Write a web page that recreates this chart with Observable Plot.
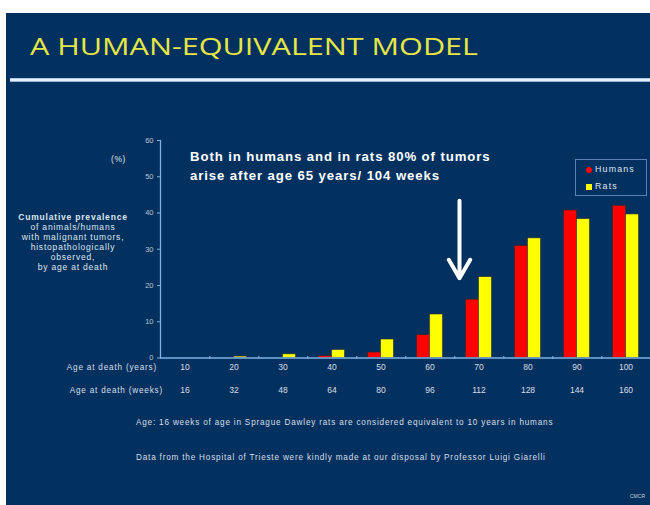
<!DOCTYPE html>
<html>
<head>
<meta charset="utf-8">
<script src="https://cdn.jsdelivr.net/npm/d3@7"></script>
<script src="https://cdn.jsdelivr.net/npm/@observablehq/plot@0.6"></script>
<style>
  html, body { margin: 0; padding: 0; background: #ffffff; width: 650px; height: 505px; overflow: hidden; }
  body { position: relative; font-family: "Liberation Sans", Arial, sans-serif; }
  .abs { position: absolute; white-space: nowrap; }
  #slide { position: absolute; left: 6px; top: 13px; width: 644px; height: 492px; background: #03315f; }
  #rule { position: absolute; left: 10px; top: 78px; width: 640px; height: 4px;
          background: linear-gradient(#8fb3de, #ffffff 45%, #ffffff 55%, #6f95c8); }
  #ylabel { left: 12px; top: 212px; width: 122px; text-align: center; color: #dfe5ee; font-size: 8.5px; line-height: 10px; letter-spacing: 0.8px; }
  #ylabel b { font-weight: bold; }
  #pct { left: 111px; top: 154px; color: #dfe5ee; font-size: 8.5px; letter-spacing: 0.6px; }
  #note { left: 190px; top: 147px; color: #ffffff; font-size: 13.2px; font-weight: bold; line-height: 19px; letter-spacing: 0.9px; }
  #rowYears { right: 493px; top: 363px; color: #d8dee8; font-size: 8.2px; letter-spacing: 0.8px; }
  #rowWeeks { right: 487px; top: 386px; color: #d8dee8; font-size: 8.2px; letter-spacing: 0.8px; }
  .caption { left: 136px; color: #d8dee8; font-size: 8.2px; letter-spacing: 0.8px; }
  #cmcr { left: 630px; top: 493px; color: #c8d0dc; font-size: 5px; }
  #legend { left: 575px; top: 159px; width: 72px; height: 37px; border: 1.5px solid #5b80b6; box-sizing: border-box; }
  .entry { position: absolute; left: 10px; font-size: 8.8px; color: #dfe5ee; letter-spacing: 1.2px; }
  .swatch { display: inline-block; width: 6px; height: 6px; margin-right: 3px; vertical-align: -0.5px; }
  #chart { position: absolute; left: 0; top: 0; width: 660px; height: 505px; }
</style>
</head>
<body>
<div id="slide"></div>
<svg class="abs" width="650" height="78" style="left:0;top:0">
  <text x="30" y="55" textLength="448" lengthAdjust="spacingAndGlyphs"
        fill="#e6e646" font-family="Open Sans, DejaVu Sans, sans-serif" font-weight="400" font-size="23">A HUMAN-EQUIVALENT MODEL</text>
</svg>
<div id="rule"></div>
<div id="chart"></div>
<div id="pct" class="abs">(%)</div>
<div id="ylabel" class="abs"><b>Cumulative prevalence</b><br>of animals/humans<br>with malignant tumors,<br>histopathologically<br>observed,<br>by age at death</div>
<div id="note" class="abs">Both in humans and in rats 80% of tumors<br>arise after age 65 years/ 104 weeks</div>
<div id="rowYears" class="abs">Age at death (years)</div>
<div id="rowWeeks" class="abs">Age at death (weeks)</div>
<div class="abs caption" style="top:418px">Age: 16 weeks of age in Sprague Dawley rats are considered equivalent to 10 years in humans</div>
<div class="abs caption" style="top:453px">Data from the Hospital of Trieste were kindly made at our disposal by Professor Luigi Giarelli</div>
<div id="cmcr" class="abs">CMCR</div>
<div id="legend" class="abs"></div>
<script>
// Age at death, in human years and the equivalent rat age in weeks
const ages = [10, 20, 30, 40, 50, 60, 70, 80, 90, 100];
const weeks = [16, 32, 48, 64, 80, 96, 112, 128, 144, 160];

// Cumulative prevalence of malignant tumours (%)
const humans = [0, 0, 0, 0.5, 1.5, 6.3, 16.1, 30.9, 40.7, 42.0];
const rats = [0, 0.4, 1.0, 2.2, 5.1, 12.0, 22.3, 33.0, 38.3, 39.6];

const seriesNames = ["Humans", "Rats"];
const seriesColors = ["#ff0000", "#ffff00"];
const yTicks = [0, 10, 20, 30, 40, 50, 60];

// Arrow pointing at the 65-year mark
const arrowAt = [{age: 70, from: 43.4, to: 22}];

const data = ages.flatMap((age, i) => [
  {age, series: "Humans", value: humans[i]},
  {age, series: "Rats", value: rats[i]}
]);

const axisColor = "#7fb0e6";

const chart = Plot.plot({
  width: 660,
  height: 505,
  marginTop: 140,
  marginBottom: 147.5,
  marginLeft: 156.5,
  marginRight: 7.5,
  style: {background: "transparent", color: "#d8dee8", fontFamily: "Liberation Sans, Arial, sans-serif", fontSize: "8.5px", maxWidth: "none"},
  fx: {domain: ages, padding: 0},
  x: {domain: seriesNames, paddingInner: 0, paddingOuter: 0.77, axis: null},
  y: {domain: [0, 60], axis: null},
  color: {domain: seriesNames, range: seriesColors},
  marks: [
    Plot.barY(data, {fx: "age", x: "series", y: "value", fill: "series", stroke: "#2b2b2b", strokeWidth: 0.6}),
    Plot.ruleY([0], {stroke: axisColor, strokeWidth: 1.3}),
    Plot.frame({anchor: "left", facetAnchor: "left", stroke: axisColor, strokeWidth: 1.3}),
    Plot.axisY({ticks: yTicks, tickSize: 3, tickPadding: 4, fontSize: 7.5, stroke: axisColor, fill: "#b9c2d2", label: null}),
    Plot.axisFx({anchor: "bottom", tickSize: 3, dx: 24.8, dy: -1.5, stroke: axisColor, tickFormat: () => "", label: null}),
    Plot.axisFx({anchor: "bottom", tickSize: 0, tickPadding: 6, label: null}),
    Plot.axisFx({anchor: "bottom", tickSize: 0, tickPadding: 29, tickFormat: d => weeks[ages.indexOf(d)], label: null}),
    Plot.arrow(arrowAt, {fx: "age", x: () => "Humans", y1: "from", y2: "to", dx: -13, stroke: "#ffffff", strokeWidth: 4, headLength: 8})
  ]
});
chart.style.maxWidth = "none";
document.getElementById("chart").append(chart);

// Legend entries
const legend = document.getElementById("legend");
seriesNames.forEach((name, i) => {
  const e = document.createElement("div");
  e.className = "entry";
  e.style.top = (i === 0 ? 4 : 21) + "px";
  const s = document.createElement("span");
  s.className = "swatch";
  s.style.background = seriesColors[i];
  if (i === 0) s.style.borderRadius = "50%";
  e.append(s, name);
  legend.append(e);
});
</script>
</body>
</html>
